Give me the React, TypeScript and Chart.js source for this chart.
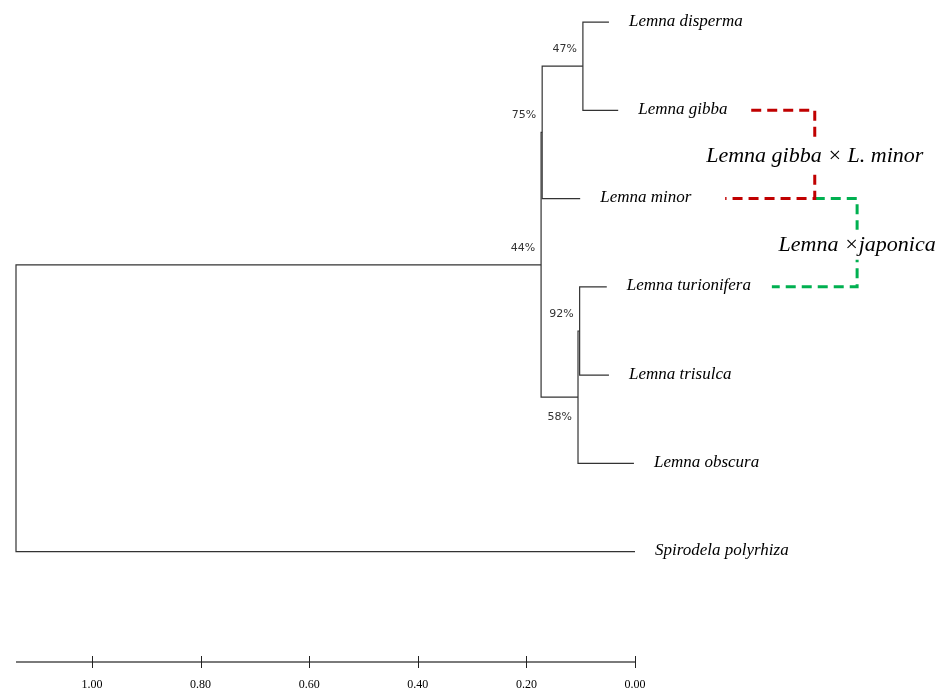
import { useEffect, useRef } from "react";
import { Chart, registerables } from "chart.js";

Chart.register(...registerables);

// ---- Data ----
const leafNames = [
  "Lemna disperma",
  "Lemna gibba",
  "Lemna minor",
  "Lemna turionifera",
  "Lemna trisulca",
  "Lemna obscura",
  "Spirodela polyrhiza",
];
const leafHeights = [0.048, 0.031, 0.101, 0.052, 0.048, 0.002, 0.0];

// internal nodes: children are "L<i>" (leaf) or "N<i>" (node)
const nodeChildren = [
  ["L0", "L1"],
  ["N0", "L2"],
  ["L3", "L4"],
  ["N2", "L5"],
  ["N1", "N3"],
  ["N4", "L6"],
];
const nodeHeights = [0.096, 0.171, 0.102, 0.105, 0.173, 1.14];
const nodeSupport = ["47%", "75%", "92%", "58%", "44%", ""];
const supportPlacement = ["above", "above", "above", "below", "above", ""];

const axisTicks = [0, 0.2, 0.4, 0.6, 0.8, 1.0];

const hybridNames = ["Lemna gibba \u00d7 L. minor", "Lemna \u00d7japonica"];
const hybridParents = [
  [1, 2],
  [2, 3],
];
const hybridColors = ["#c00000", "#00b050"];
const hybridBracketX = [-0.331, -0.409];
const hybridStartX = [
  [-0.214, -0.166],
  [-0.331, -0.252],
];

// ---- Derived tree geometry ----
function getRef(ref: string): { h: number; y: number } {
  const idx = parseInt(ref.slice(1), 10);
  if (ref[0] === "L") return { h: leafHeights[idx], y: idx };
  const [a, b] = nodeChildren[idx];
  const ra = getRef(a);
  const rb = getRef(b);
  return { h: nodeHeights[idx], y: (ra.y + rb.y) / 2 };
}

export default function App() {
  const canvasRef = useRef<HTMLCanvasElement | null>(null);

  useEffect(() => {
    if (!canvasRef.current) return;

    const treeDatasets = nodeChildren.map((ch, i) => {
      const a = getRef(ch[0]);
      const b = getRef(ch[1]);
      const h = nodeHeights[i];
      return {
        data: [
          { x: a.h, y: a.y },
          { x: h, y: a.y },
          { x: h, y: b.y },
          { x: b.h, y: b.y },
        ],
        borderColor: "#333333",
        borderWidth: 1.2,
        showLine: true,
        pointRadius: 0,
        tension: 0,
        clip: false,
      };
    });

    const hybridDatasets = hybridParents.map((p, i) => ({
      data: [
        { x: hybridStartX[i][0], y: p[0] },
        { x: hybridBracketX[i], y: p[0] },
        { x: hybridBracketX[i], y: p[1] },
        { x: hybridStartX[i][1], y: p[1] },
      ],
      borderColor: hybridColors[i],
      borderWidth: 3,
      borderDash: [10, 6],
      showLine: true,
      pointRadius: 0,
      tension: 0,
      clip: false,
    }));

    const labelPlugin = {
      id: "dendroLabels",
      afterDraw(chart: any) {
        const ctx = chart.ctx as CanvasRenderingContext2D;
        const xs = chart.scales.x;
        const ys = chart.scales.y;
        const bottom = chart.chartArea.bottom;
        ctx.save();
        // axis line
        ctx.strokeStyle = "#7a7a7a";
        ctx.lineWidth = 2;
        ctx.beginPath();
        ctx.moveTo(xs.getPixelForValue(nodeHeights[nodeHeights.length - 1]), bottom);
        ctx.lineTo(xs.getPixelForValue(0), bottom);
        ctx.stroke();
        ctx.strokeStyle = "#222";
        ctx.lineWidth = 1;
        axisTicks.forEach((v) => {
          const px = Math.round(xs.getPixelForValue(v)) + 0.5;
          ctx.beginPath();
          ctx.moveTo(px, bottom - 6);
          ctx.lineTo(px, bottom + 6);
          ctx.stroke();
        });

        // leaf labels
        ctx.fillStyle = "#000";
        ctx.font = "italic 17px 'Liberation Serif', 'DejaVu Serif', serif";
        ctx.textAlign = "left";
        ctx.textBaseline = "middle";
        leafNames.forEach((name, i) => {
          ctx.fillText(name, xs.getPixelForValue(leafHeights[i]) + 20, ys.getPixelForValue(i) - 1);
        });

        // support labels
        ctx.font = "11px 'DejaVu Sans', sans-serif";
        ctx.fillStyle = "#333";
        ctx.textAlign = "right";
        nodeSupport.forEach((s, i) => {
          if (!s) return;
          const r = getRef("N" + i);
          const px = xs.getPixelForValue(r.h) - 6;
          const py = ys.getPixelForValue(r.y) + (supportPlacement[i] === "below" ? 20 : -17);
          ctx.fillText(s, px, py);
        });

        // hybrid labels
        ctx.font = "italic 22px 'Liberation Serif', 'DejaVu Serif', serif";
        ctx.textAlign = "center";
        hybridNames.forEach((name, i) => {
          const cx = xs.getPixelForValue(hybridBracketX[i]);
          const cy = ys.getPixelForValue((hybridParents[i][0] + hybridParents[i][1]) / 2) + 2;
          const w = ctx.measureText(name).width;
          ctx.fillStyle = "#fff";
          ctx.fillRect(cx - w / 2 - 3, cy - 15, w + 6, 30);
          ctx.fillStyle = "#000";
          ctx.fillText(name, cx, cy);
        });
        ctx.restore();
      },
    };

    const chart = new Chart(canvasRef.current, {
      type: "scatter",
      data: { datasets: [...treeDatasets, ...hybridDatasets] as any },
      options: {
        animation: false,
        responsive: true,
        maintainAspectRatio: false,
        layout: { padding: { left: 16, right: 0, top: 0, bottom: 0 } },
        plugins: { legend: { display: false }, tooltip: { enabled: false } },
        scales: {
          x: {
            type: "linear",
            reverse: true,
            min: -0.5727,
            max: 1.14,
            grid: { display: false, drawTicks: false },
            border: { display: false },
            afterBuildTicks: (scale: any) => {
              scale.ticks = axisTicks.map((v) => ({ value: v }));
            },
            afterFit: (scale: any) => {
              scale.height = 28;
            },
            ticks: {
              padding: 16,
              color: "#000",
              font: { family: "'Liberation Serif', serif", size: 12 },
              callback: (v: any) => Number(v).toFixed(2),
            },
          },
          y: {
            type: "linear",
            reverse: true,
            min: -0.25,
            max: 7.25,
            display: false,
          },
        },
      },
      plugins: [labelPlugin],
    });

    return () => chart.destroy();
  }, []);

  return (
    <div style={{ position: "absolute", left: 0, top: 0, width: 946, height: 690, background: "#fff" }}>
      <canvas ref={canvasRef} />
    </div>
  );
}
